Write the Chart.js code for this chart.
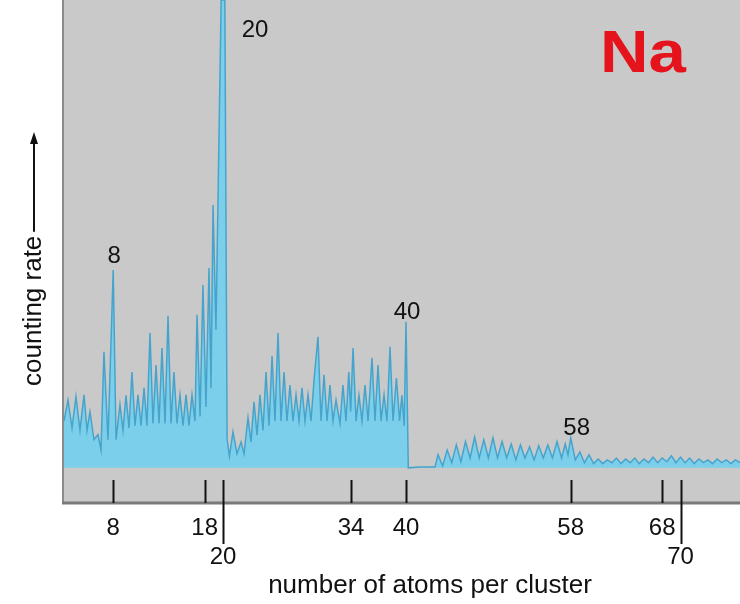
<!DOCTYPE html>
<html>
<head>
<meta charset="utf-8">
<script src="https://cdn.jsdelivr.net/npm/chart.js@4.4.1/dist/chart.umd.min.js"></script>
<style>
  html, body { margin: 0; padding: 0; background: #ffffff; }
  canvas { display: block; }
</style>
</head>
<body>
<canvas id="spectrum" width="740" height="604"></canvas>
<script>
// Mass spectrum of sodium clusters: cluster size (atoms) vs. counting rate (arb. units)
const atoms = [
  2.62, 3.06, 3.50, 3.93, 4.37, 4.81, 5.14, 5.46, 5.90, 6.34, 6.67, 6.99, 7.43, 8.00,
  8.31, 8.74, 9.07, 9.40, 9.73, 10.05, 10.38, 10.71, 11.04, 11.37, 11.69, 12.02, 12.35,
  12.68, 13.01, 13.33, 13.66, 13.99, 14.32, 14.64, 14.97, 15.30, 15.63, 15.96, 16.28,
  16.61, 16.94, 17.16, 17.49, 17.81, 18.14, 18.47, 18.69, 18.91, 19.23, 19.80, 20.00, 20.20,
  20.45, 20.70, 21.09, 21.53, 21.97, 22.30, 22.73, 23.06, 23.39, 23.72, 24.04, 24.37,
  24.70, 25.03, 25.36, 25.68, 26.01, 26.34, 26.67, 26.99, 27.32, 27.65, 27.98, 28.31,
  28.63, 28.96, 29.29, 29.62, 29.95, 30.38, 30.71, 31.04, 31.37, 31.69, 32.02, 32.35,
  32.79, 33.11, 33.44, 33.75, 33.95, 34.21, 34.54, 34.86, 35.19, 35.52, 35.85, 36.28,
  36.61, 36.94, 37.27, 37.60, 37.92, 38.25, 38.58, 38.95, 39.30, 39.55, 39.80, 40.00,
  40.25, 41.53, 43.17,
  43.5, 44.0, 44.5, 45.0, 45.5, 46.0, 46.5, 47.0, 47.5, 48.0, 48.5, 49.0, 49.5, 50.0,
  50.5, 51.0, 51.5, 52.0, 52.5, 53.0, 53.5, 54.0, 54.5, 55.0, 55.5, 56.0, 56.5, 57.0,
  57.4, 57.7, 58.0, 58.5, 59.0, 59.5, 60.0, 60.5, 61.0, 61.5, 62.0, 62.5, 63.0, 63.5,
  64.0, 64.5, 65.0, 65.5, 66.0, 66.5, 67.0, 67.5, 68.0, 68.5, 69.0, 69.5, 70.0, 70.5,
  71.0, 71.5, 72.0, 72.5, 73.0, 73.5, 74.0, 74.5, 75.0, 75.5, 76.0, 76.5
];
const counts = [
  10.0, 14.5, 8.5, 15.2, 8.0, 15.6, 8.0, 12.0, 6.0, 7.1, 3.8, 24.8, 6.0, 42.3,
  6.0, 13.5, 8.0, 15.5, 8.5, 20.5, 9.0, 15.6, 9.0, 17.1, 9.0, 28.8, 9.5,
  22.0, 9.5, 25.6, 9.5, 32.5, 9.5, 20.5, 9.5, 15.6, 9.0, 15.6, 9.0,
  15.6, 10.0, 32.7, 11.0, 39.1, 13.0, 42.7, 17.0, 56.2, 29.5, 100, 100, 100,
  6.0, 2.5, 7.7, 3.0, 5.5, 3.0, 10.7, 5.5, 14.1, 7.0, 15.6, 8.0,
  20.5, 9.0, 23.9, 10.0, 28.8, 10.0, 20.5, 10.0, 17.7, 10.0, 15.6, 10.0,
  17.1, 10.0, 15.6, 10.0, 18.8, 28.0, 10.0, 19.9, 10.0, 17.7, 10.0, 14.5,
  9.5, 17.7, 10.0, 20.5, 12.0, 25.6, 10.0, 15.5, 10.0, 17.7, 10.0, 23.5,
  10.0, 22.0, 10.0, 15.6, 10.0, 25.9, 10.0, 19.2, 10.0, 15.5, 9.0, 31.2,
  0.0, 0.2, 0.2,
  2.8, 0.4, 3.8, 1.1, 4.9, 1.3, 5.6, 2.1, 6.6, 2.1, 6.0, 2.1, 6.4, 2.1,
  5.6, 2.1, 5.1, 1.7, 4.9, 2.1, 4.5, 1.7, 4.7, 2.1, 4.9, 2.1, 5.6, 2.1,
  5.1, 2.8, 6.4, 1.7, 3.4, 1.1, 2.8, 0.9, 1.9, 0.9, 1.7, 1.1, 2.1, 0.9,
  1.9, 1.1, 2.1, 0.9, 1.9, 1.1, 2.3, 1.1, 2.1, 1.3, 2.6, 1.1, 2.3, 1.1,
  2.1, 0.9, 1.9, 1.1, 1.7, 0.9, 1.9, 1.1, 1.7, 0.9, 1.7, 1.1
];

// Magic numbers marked on the size axis; 20 and 70 sit on a lower row
const tickValues = [8, 18, 20, 34, 40, 58, 68, 70];
const lowerRowTicks = [20, 70];

// Peaks annotated with their cluster size
const peakLabels = [8, 20, 40, 58];

const FONT = "'Liberation Sans', Arial, sans-serif";

const points = atoms.map((a, i) => ({ x: a, y: counts[i] }));

const labelOffsets = { 8: [1, -14], 20: [32, 30], 40: [1, -10], 58: [6, -10] };

const decorations = {
  id: 'decorations',
  beforeDatasetsDraw(chart) {
    const { ctx, chartArea: a } = chart;
    ctx.save();
    ctx.fillStyle = '#c9c9c9';
    ctx.fillRect(a.left, a.top, a.right - a.left, a.bottom - a.top);
    ctx.restore();
  },
  afterDatasetsDraw(chart) {
    const { ctx, chartArea: a, scales } = chart;
    const xs = scales.x, ys = scales.y;
    ctx.save();
    // frame lines
    ctx.strokeStyle = '#8c8c8c';
    ctx.lineWidth = 2;
    ctx.beginPath();
    ctx.moveTo(a.left - 1, a.top);
    ctx.lineTo(a.left - 1, a.bottom);
    ctx.stroke();
    ctx.strokeStyle = '#7a7a7a';
    ctx.lineWidth = 3;
    ctx.beginPath();
    ctx.moveTo(a.left - 2, a.bottom + 1);
    ctx.lineTo(a.right, a.bottom + 1);
    ctx.stroke();

    // tick marks rising into the plot; longer ones reach the lower label row
    ctx.strokeStyle = '#111';
    ctx.lineWidth = 2;
    tickValues.forEach(v => {
      const px = Math.round(xs.getPixelForValue(v)) + 0.5;
      const y2 = lowerRowTicks.includes(v) ? a.bottom + 42 : a.bottom + 1;
      ctx.beginPath();
      ctx.moveTo(px, a.bottom - 22);
      ctx.lineTo(px, y2);
      ctx.stroke();
    });

    // peak annotations
    ctx.fillStyle = '#111';
    ctx.font = '24px ' + FONT;
    ctx.textAlign = 'center';
    ctx.textBaseline = 'middle';
    peakLabels.forEach(n => {
      const i = atoms.indexOf(n);
      const px = xs.getPixelForValue(n);
      const py = ys.getPixelForValue(counts[i]);
      const [dx, dy] = labelOffsets[n];
      ctx.fillText(String(n), px + dx, Math.max(py, a.top) + dy);
    });

    // element symbol
    ctx.fillStyle = '#e5141c';
    ctx.font = 'bold 60px ' + FONT;
    ctx.textAlign = 'left';
    ctx.textBaseline = 'alphabetic';
    ctx.translate(600, 72);
    ctx.scale(1.12, 1);
    ctx.fillText('Na', 0, 0);
    ctx.restore();
  },
  afterDraw(chart) {
    const { ctx } = chart;
    ctx.save();
    ctx.fillStyle = '#111';
    // x-axis title
    ctx.font = '26px ' + FONT;
    ctx.textAlign = 'center';
    ctx.textBaseline = 'middle';
    ctx.fillText('number of atoms per cluster', 430, 586);

    // y-axis title with arrow
    ctx.translate(34, 386);
    ctx.rotate(-Math.PI / 2);
    ctx.textAlign = 'left';
    ctx.fillText('counting rate', 0, 0);
    const w = ctx.measureText('counting rate').width;
    ctx.strokeStyle = '#111';
    ctx.lineWidth = 2;
    ctx.beginPath();
    ctx.moveTo(w + 4, 0);
    ctx.lineTo(248, 0);
    ctx.stroke();
    ctx.beginPath();
    ctx.moveTo(254, 0);
    ctx.lineTo(242, -4);
    ctx.lineTo(242, 4);
    ctx.closePath();
    ctx.fill();
    ctx.restore();
  }
};

new Chart(document.getElementById('spectrum'), {
  type: 'line',
  data: {
    datasets: [{
      data: points,
      borderColor: '#46a4cc',
      borderWidth: 1.5,
      backgroundColor: '#7ccfea',
      fill: { value: 0 },
      pointRadius: 0,
      tension: 0
    }]
  },
  options: {
    responsive: false,
    devicePixelRatio: 1,
    animation: false,
    layout: { padding: 0 },
    plugins: { legend: { display: false }, tooltip: { enabled: false } },
    scales: {
      x: {
        type: 'linear',
        min: 2.623,
        max: 76.5,
        afterBuildTicks(scale) {
          scale.ticks = tickValues.map(v => ({ value: v }));
        },
        afterFit(scale) { scale.height = 102; },
        grid: { display: false },
        border: { display: false },
        ticks: {
          autoSkip: false,
          maxRotation: 0,
          padding: 4,
          color: '#111',
          font: { family: FONT, size: 24 },
          callback: v => lowerRowTicks.includes(v) ? ['', String(v)] : String(v)
        }
      },
      y: {
        min: -7.3,
        max: 100,
        afterFit(scale) { scale.width = 64; },
        grid: { display: false },
        border: { display: false },
        ticks: { display: false }
      }
    }
  },
  plugins: [decorations]
});
</script>
</body>
</html>
